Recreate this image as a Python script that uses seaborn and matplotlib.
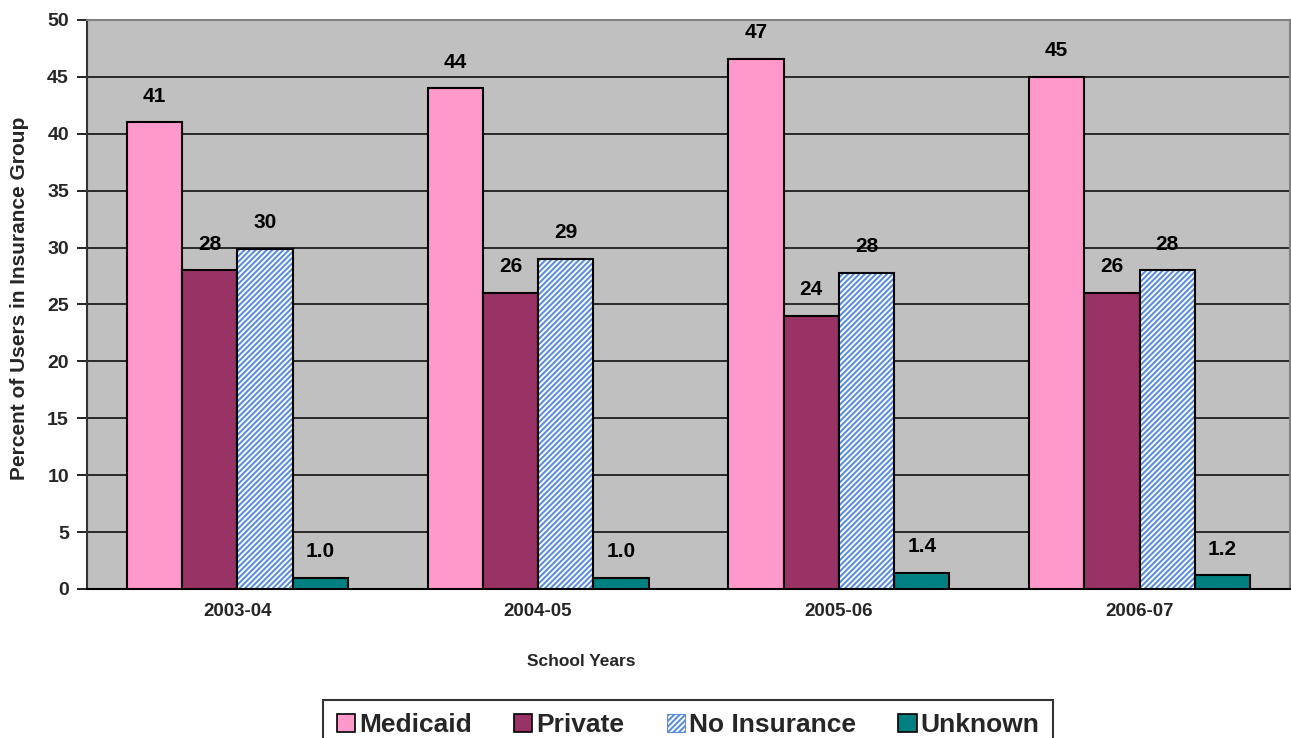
import matplotlib
matplotlib.use("Agg")
import matplotlib.pyplot as plt
from matplotlib.patches import Patch, Rectangle
import seaborn as sns
import pandas as pd

# Share of school-based health center users by insurance group
years = ["2003-04", "2004-05", "2005-06", "2006-07"]
groups = ["Medicaid", "Private", "No Insurance", "Unknown"]
medicaid = [41.0, 44.0, 46.6, 45.0]
private = [28.0, 26.0, 24.0, 26.0]
no_insurance = [29.9, 29.0, 27.8, 28.0]
unknown = [1.0, 1.0, 1.4, 1.2]
label_formats = ["{:.0f}", "{:.0f}", "{:.0f}", "{:.1f}"]

colors = ["#FF99CC", "#993366", "#FFFFFF", "#008080"]
hatch_blue = "#5B8FDD"

series = [medicaid, private, no_insurance, unknown]
df = pd.DataFrame(
    [(y, g, v) for g, vals in zip(groups, series) for y, v in zip(years, vals)],
    columns=["year", "group", "pct"],
)

sns.set_theme(style="white")
plt.rcParams["font.family"] = ["Liberation Sans", "DejaVu Sans"]
plt.rcParams["hatch.linewidth"] = 1.5

fig = plt.figure(figsize=(12.91, 7.38), dpi=100)
ax = fig.add_axes([0.0674, 0.2019, 0.9318, 0.7710])
ax.set_facecolor("#C0C0C0")

sns.barplot(
    data=df, x="year", y="pct", hue="group", order=years, hue_order=groups,
    palette=colors, width=0.735, gap=0, edgecolor="black", linewidth=1.5,
    saturation=1, legend=False, ax=ax, zorder=3,
)

# Hatched fill for the uninsured bars, with a separate black outline
for bar in ax.containers[2]:
    bar.set_hatch("//////")
    bar.set_edgecolor(hatch_blue)
    bar.set_linewidth(0)
    ax.add_patch(Rectangle(bar.get_xy(), bar.get_width(), bar.get_height(),
                           fill=False, edgecolor="black", linewidth=1.5, zorder=4))

for cont, fmt in zip(ax.containers, label_formats):
    ax.bar_label(cont, labels=[fmt.format(v) for v in cont.datavalues],
                 padding=12, fontsize=15, fontweight="bold", color="black")

ax.set_ylim(0, 50)
ax.set_yticks(range(0, 51, 5))
ax.set_xlim(-0.5, len(years) - 0.5)
ax.yaxis.grid(True, color="black", linewidth=1.1, zorder=0)
ax.set_axisbelow(True)

# Category separators as minor ticks on the x axis
ax.set_xticks([i - 0.5 for i in range(len(years) + 1)], minor=True)
ax.tick_params(axis="x", which="major", length=0, pad=10, labelsize=13.5)
ax.tick_params(axis="x", which="minor", length=7, width=1.2, color="#555555", direction="out")
ax.tick_params(axis="y", which="major", length=7, width=1.2, color="black",
               direction="out", left=True, labelsize=14, pad=6)
for lab in ax.get_xticklabels() + ax.get_yticklabels():
    lab.set_fontweight("bold")

for side in ["top", "right"]:
    ax.spines[side].set_color("#808080")
    ax.spines[side].set_linewidth(1.5)
ax.spines["left"].set_color("#333333")
ax.spines["bottom"].set_color("black")
ax.spines["left"].set_linewidth(1.5)
ax.spines["bottom"].set_linewidth(1.5)

ax.set_xlabel("")
ax.set_ylabel("Percent of Users in Insurance Group", fontsize=15, fontweight="bold", labelpad=12)
ax.yaxis.set_label_coords(-0.048, 0.51)
fig.text(581 / 1291, 1 - 661 / 738, "School Years", ha="center", va="center",
         fontsize=12.5, fontweight="bold")

handles = []
for g, c in zip(groups, colors):
    if g == "No Insurance":
        handles.append(Patch(facecolor="white", edgecolor=hatch_blue, hatch="//////", linewidth=0.8, label=g))
    else:
        handles.append(Patch(facecolor=c, edgecolor="black", linewidth=1.2, label=g))

leg = fig.legend(handles=handles, loc="lower center", bbox_to_anchor=(0.533, -0.035),
                 ncol=4, frameon=True, fancybox=False, edgecolor="black",
                 prop={"size": 19, "weight": "bold"}, handlelength=0.7, handleheight=0.7,
                 handletextpad=0.15, columnspacing=1.6, borderpad=0.5)
leg.get_frame().set_linewidth(1.5)

fig.savefig("out.png", dpi=100, facecolor="white")
